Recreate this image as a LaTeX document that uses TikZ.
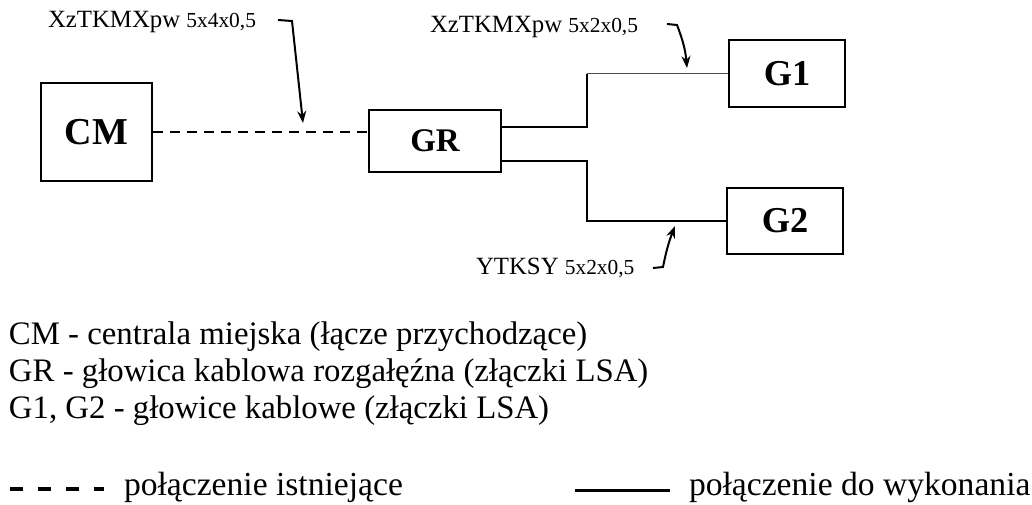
\documentclass[tikz,border=0pt]{standalone}
\usepackage{fontspec}
\setmainfont{Liberation Serif}
\usetikzlibrary{positioning,arrows.meta}

\begin{document}
\begin{tikzpicture}[
                        >={Stealth[length=6pt,width=4.5pt]},
                        x = 0.5pt,
                        y = -0.5pt,
                        line width = 1pt
                        ]

                        \tikzstyle{box}=[
                                draw = black,
                                line width = 1pt,
                                inner sep = 0pt,
                                font = \bfseries
                        ]
                        \tikzstyle{cable}=[
                                inner sep = 0pt,
                                anchor = base west,
                                font = \fontsize{12.4}{14}\selectfont
                        ]
                        \tikzstyle{legend}=[
                                inner sep = 0pt,
                                anchor = base west,
                                font = \fontsize{16.4}{20}\selectfont
                        ]
                        \newcommand{\dims}[1]{{\fontsize{10.7}{12}\selectfont #1}}

                        \useasboundingbox (0,0) rectangle (1032,504);

                        \node[box, minimum width=55.5pt, minimum height=49pt, font=\bfseries\fontsize{19}{22}\selectfont] (CM) at (96.5,132) {CM};
                        \node[box, minimum width=66pt, minimum height=31pt, font=\bfseries\fontsize{16.5}{20}\selectfont] (GR) at (435,141) {GR};
                        \node[box, minimum width=58pt, minimum height=33.5pt, font=\bfseries\fontsize{18.2}{22}\selectfont] (G1) at (787,73.5) {G1};
                        \node[box, minimum width=58pt, minimum height=33pt, font=\bfseries\fontsize{18.2}{22}\selectfont] (G2) at (785,221) {G2};

                        % polaczenia
                        \draw[dash pattern=on 5pt off 3.5pt] (CM.east) -- (CM.east -| GR.west);
                        \coordinate (up) at (587,127);
                        \coordinate (down) at (587,161);
                        \draw (GR.east |- up) -- (up) -- (up |- G1);
                        \draw[line width=0.5pt, black!70] (up |- G1) -- (G1.west);
                        \draw (GR.east |- down) -- (down) |- (G2.west);

                        % opisy kabli
                        \node[cable] (k1) at (47,27) {XzTKMXpw \dims{5x4x0,5}};
                        \node[cable] (k2) at (429,32) {XzTKMXpw \dims{5x2x0,5}};
                        \node[cable] (k3) at (475,274) {YTKSY \dims{5x2x0,5}};
                        \coordinate (t1) at (303,123);
                        \coordinate (t2) at (687,68);
                        \coordinate (t3) at (675,226);
                        \draw[->] (278,20) -- (292,21) -- (t1);
                        \draw[->] (667,24) -- (677,25) to[bend left=8] (t2);
                        \draw[->] (653,268) -- (663,267) to[bend left=5] (t3);

                        % legenda
                        \node[legend] (l1) at (8,344) {CM - centrala miejska (łącze przychodzące)};
                        \node[legend] (l2) at (8,381) {GR - głowica kablowa rozgałęźna (złączki LSA)};
                        \node[legend] (l3) at (8,418) {G1, G2 - głowice kablowe (złączki LSA)};
                        \draw[line width=2pt, dash pattern=on 6.5pt off 7.5pt] (10,489) -- (104,489);
                        \node[legend, font=\fontsize{16.8}{20}\selectfont] (l4) at (123,495) {połączenie istniejące};
                        \draw[line width=1.5pt] (575,490) -- (670,490);
                        \node[legend, font=\fontsize{16.8}{20}\selectfont] (l5) at (688,495) {połączenie do wykonania};
                \end{tikzpicture}
\end{document}
